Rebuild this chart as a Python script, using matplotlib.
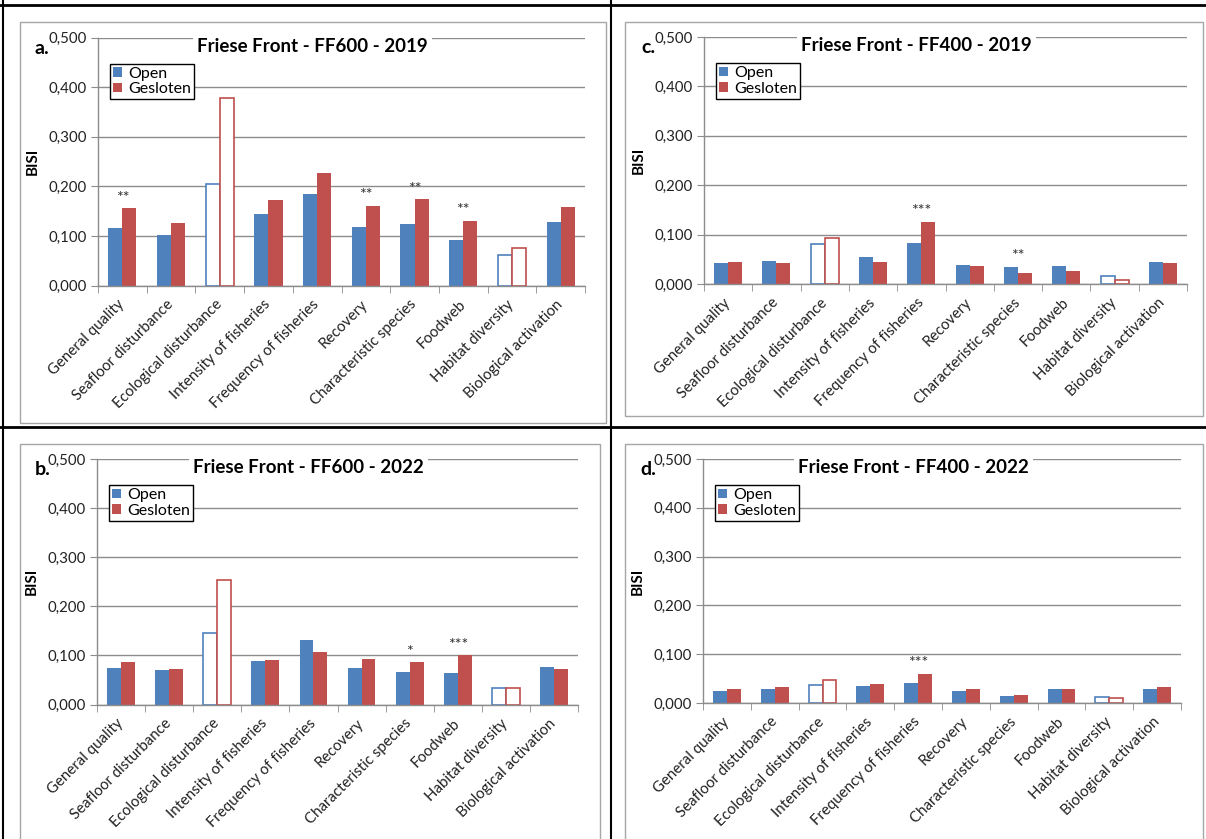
import matplotlib
matplotlib.use("Agg")
import matplotlib.pyplot as plt
from matplotlib.patches import Rectangle, Patch
from matplotlib.lines import Line2D
from matplotlib.ticker import FuncFormatter, FixedLocator
import numpy as np

plt.rcParams['font.family'] = ['Lato', 'DejaVu Sans']

categories = ["General quality", "Seafloor disturbance", "Ecological disturbance",
              "Intensity of fisheries", "Frequency of fisheries", "Recovery",
              "Characteristic species", "Foodweb", "Habitat diversity",
              "Biological activation"]
series_names = ["Open", "Gesloten"]
y_ticks = [0.0, 0.1, 0.2, 0.3, 0.4, 0.5]

# Panel a: Friese Front - FF600 - 2019
open_a = [0.115, 0.101, 0.204, 0.145, 0.184, 0.117, 0.123, 0.092, 0.062, 0.128]
gesl_a = [0.156, 0.127, 0.379, 0.172, 0.227, 0.161, 0.174, 0.131, 0.075, 0.158]
stars_a = ["**", "", "", "", "", "**", "**", "**", "", ""]

# Panel c: Friese Front - FF400 - 2019
open_c = [0.042, 0.047, 0.081, 0.055, 0.083, 0.038, 0.035, 0.036, 0.017, 0.044]
gesl_c = [0.044, 0.042, 0.094, 0.045, 0.126, 0.036, 0.022, 0.026, 0.009, 0.043]
stars_c = ["", "", "", "", "***", "", "**", "", "", ""]

# Panel b: Friese Front - FF600 - 2022
open_b = [0.075, 0.071, 0.145, 0.088, 0.131, 0.074, 0.067, 0.064, 0.033, 0.077]
gesl_b = [0.086, 0.072, 0.254, 0.091, 0.107, 0.092, 0.086, 0.100, 0.033, 0.072]
stars_b = ["", "", "", "", "", "", "*", "***", "", ""]

# Panel d: Friese Front - FF400 - 2022
open_d = [0.024, 0.028, 0.037, 0.034, 0.041, 0.024, 0.015, 0.028, 0.012, 0.028]
gesl_d = [0.029, 0.033, 0.048, 0.039, 0.060, 0.028, 0.016, 0.029, 0.011, 0.033]
stars_d = ["", "", "", "", "***", "", "", "", "", ""]

# categories drawn as hollow bars
hollow = [False, False, True, False, False, False, False, False, True, False]

BLUE = "#4F81BD"
RED = "#C0504D"
GRID = "#8C8C8C"
FRAME = "#A6A6A6"

W, H = 1206, 839
fig = plt.figure(figsize=(W / 100, H / 100), dpi=100)


def fx(x):
    return x / W


def fy(y):
    return 1 - y / H


def add_rect(x0, y0, x1, y1, **kw):
    fig.patches.append(Rectangle((fx(x0), fy(y1)), fx(x1) - fx(x0), fy(y0) - fy(y1),
                                 transform=fig.transFigure, fill=False, **kw))


def add_line(x0, y0, x1, y1, **kw):
    fig.lines.append(Line2D([fx(x0), fx(x1)], [fy(y0), fy(y1)],
                            transform=fig.transFigure, **kw))


# chart frames (grey)
add_rect(20, 22, 606, 423, edgecolor=FRAME, lw=1.0)
add_rect(625, 22, 1203, 416, edgecolor=FRAME, lw=1.0)
add_rect(20, 444, 600, 860, edgecolor=FRAME, lw=1.0)
add_rect(625, 444, 1203, 860, edgecolor=FRAME, lw=1.0)

# table lines (black)
add_line(0, 5, W, 5, color="black", lw=2.0)
add_line(3, 0, 3, H, color="black", lw=1.5)
add_line(611, 0, 611, H, color="black", lw=1.5)
add_line(0, 427, W, 427, color="black", lw=2.0)

panels = [
    ("a.", "Friese Front - FF600 - 2019", open_a, gesl_a, stars_a, (98, 37.5, 585, 285.5)),
    ("c.", "Friese Front - FF400 - 2019", open_c, gesl_c, stars_c, (704, 37, 1187, 284)),
    ("b.", "Friese Front - FF600 - 2022", open_b, gesl_b, stars_b, (97, 459, 578, 704.5)),
    ("d.", "Friese Front - FF400 - 2022", open_d, gesl_d, stars_d, (703, 459, 1181, 703)),
]

bw = 0.29
for letter, title, ov, gv, st, (x0, y0, x1, y1) in panels:
    ax = fig.add_axes([fx(x0), fy(y1), fx(x1) - fx(x0), fy(y0) - fy(y1)])
    ax.set_xlim(0, len(categories))
    ax.set_ylim(0, 0.5)
    ax.set_facecolor("none")
    for s in ("top", "right"):
        ax.spines[s].set_visible(False)
    for s in ("left", "bottom"):
        ax.spines[s].set_color(GRID)
        ax.spines[s].set_linewidth(1.0)
    ax.yaxis.set_major_locator(FixedLocator(y_ticks))
    ax.yaxis.set_major_formatter(FuncFormatter(lambda v, p: f"{v:.3f}".replace(".", ",")))
    ax.grid(axis="y", color=GRID, lw=1.0)
    ax.set_axisbelow(True)
    centers = np.arange(len(categories)) + 0.5
    ax.set_xticks(centers)
    ax.set_xticklabels(categories, rotation=45, ha="right", va="center",
                       rotation_mode="anchor", fontsize=10.8, color="#222222")
    ax.xaxis.set_minor_locator(FixedLocator(np.arange(len(categories) + 1)))
    ax.tick_params(axis="x", which="major", length=0, pad=12)
    ax.tick_params(axis="x", which="minor", length=5, color=GRID, direction="out")
    ax.tick_params(axis="y", length=5, color=GRID, direction="out", labelsize=10.8,
                   labelcolor="#222222", pad=3)

    for vals, off, col in ((ov, -bw / 2, BLUE), (gv, bw / 2, RED)):
        fcs = ["white" if h else col for h in hollow]
        lws = [1.2 if h else 0.0 for h in hollow]
        ax.bar(centers + off, vals, width=bw, color=fcs, edgecolor=col, linewidth=lws)

    for c, o, g, s in zip(centers, ov, gv, st):
        if s:
            ax.text(c, max(o, g) + 0.007, s, ha="center", va="bottom", fontsize=11.5,
                    color="#333333")

    ax.set_ylabel("BISI", fontsize=11, fontweight="bold", labelpad=6)
    ax.text(0.44, 1.0 - 0.036, title, transform=ax.transAxes, ha="center", va="center",
            fontsize=13.5, fontweight="bold",
            bbox=dict(facecolor="white", edgecolor="none", pad=3))
    ax.text(-0.13, 0.99, letter, transform=ax.transAxes, ha="left", va="top",
            fontsize=14, fontweight="bold")

    handles = [Patch(facecolor=BLUE, edgecolor="none"), Patch(facecolor=RED, edgecolor="none")]
    leg = ax.legend(handles, series_names, loc="upper left",
                    bbox_to_anchor=(12 / (x1 - x0), 1 - 26 / (y1 - y0)),
                    borderaxespad=0, fancybox=False, framealpha=1, edgecolor="black",
                    fontsize=11.5, handlelength=0.55, handleheight=0.55, handletextpad=0.4,
                    borderpad=0.2, labelspacing=0.1)
    leg.get_frame().set_linewidth(1.0)

fig.savefig("out.png", dpi=100)
